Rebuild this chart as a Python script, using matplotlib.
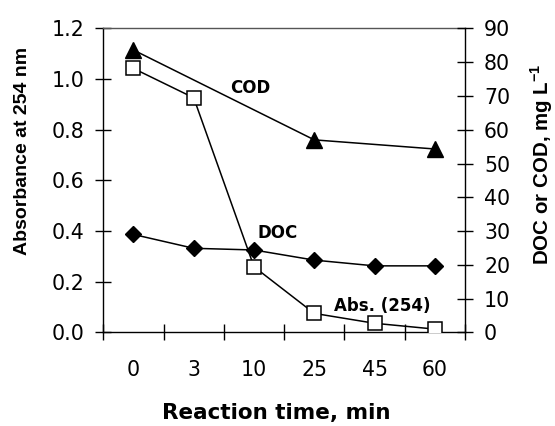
import matplotlib
matplotlib.use("Agg")
import matplotlib.pyplot as plt
from matplotlib import font_manager
from matplotlib.ticker import FixedLocator, NullFormatter, FixedFormatter

# ---- data ----
times = ["0", "3", "10", "25", "45", "60"]
abs254 = [1.042, 0.926, 0.259, 0.075, 0.036, 0.013]
doc = [29.0, 24.9, 24.4, 21.4, 19.7, 19.7]
cod_times = ["0", "25", "60"]
cod = [83.6, 57.0, 54.3]
left_ticks = [0.0, 0.2, 0.4, 0.6, 0.8, 1.0, 1.2]
right_ticks = [0, 10, 20, 30, 40, 50, 60, 70, 80, 90]

names = {f.name for f in font_manager.fontManager.ttflist}
narrow = "Liberation Sans Narrow" in names
vfam = "Liberation Sans Narrow" if narrow else "Liberation Sans"
vsize_l = 16.4 if narrow else 14.0
vsize_r = 17.5 if narrow else 14.8
hfam = "DejaVu Sans"

plt.rcParams["font.family"] = [hfam]
plt.rcParams["mathtext.fontset"] = "custom"
plt.rcParams["mathtext.bf"] = vfam + ":bold"
plt.rcParams["mathtext.rm"] = vfam

W, H = 555, 426
fig = plt.figure(figsize=(W / 100, H / 100), dpi=100)
L, R, T, B = 103.3, 465.0, 28.4, 332.4
ax = fig.add_axes([L / W, 1 - B / H, (R - L) / W, (B - T) / H])
ax2 = ax.twinx()

xpos = list(range(len(times)))
xmap = {t: i for i, t in enumerate(times)}
cod_x = [xmap[t] for t in cod_times]

lw = 1.1
ax.plot(xpos, abs254, color="black", lw=lw, marker="s", ms=10, mfc="white",
        mec="black", mew=1.1, zorder=3)
ax2.plot(xpos, doc, color="black", lw=lw, marker="D", ms=8, mfc="black",
         mec="black", zorder=3)
ax2.plot(cod_x, cod, color="black", lw=lw, marker="^", ms=12, mfc="black",
         mec="black", zorder=3)

ax.set_xlim(-0.5, len(times) - 0.5)
ax.set_ylim(0, 1.2)
ax2.set_ylim(0, 90)

ax.yaxis.set_major_locator(FixedLocator(left_ticks))
ax.set_yticklabels([f"{v:.1f}" for v in left_ticks])
ax2.yaxis.set_major_locator(FixedLocator(right_ticks))
ax2.set_yticklabels([str(v) for v in right_ticks])

ax.xaxis.set_major_locator(FixedLocator([i - 0.5 for i in range(len(times) + 1)]))
ax.xaxis.set_major_formatter(NullFormatter())
ax.xaxis.set_minor_locator(FixedLocator(xpos))
ax.xaxis.set_minor_formatter(FixedFormatter(times))

tick_len = 11.5
ax.tick_params(axis="x", which="major", direction="inout", length=tick_len, width=1.0)
ax.tick_params(axis="x", which="minor", length=0, pad=20, labelsize=14.8)
ax.tick_params(axis="y", direction="inout", length=tick_len, width=1.0, pad=8,
               labelsize=14.8)
ax2.tick_params(axis="y", direction="inout", length=tick_len, width=1.0, pad=8,
                labelsize=14.8)

for a in (ax, ax2):
    for s in a.spines.values():
        s.set_linewidth(1.0)
ax.spines["right"].set_visible(False)
ax.spines["top"].set_color("#555555")
ax2.spines["top"].set_visible(False)
ax2.spines["left"].set_visible(False)
ax2.spines["bottom"].set_visible(False)

# series labels
ax.text(0.4056, 0.805, "COD", transform=ax.transAxes, ha="center", va="center",
        fontsize=12, fontweight="bold")
ax.text(0.483, 0.326, "DOC", transform=ax.transAxes, ha="center", va="center",
        fontsize=12, fontweight="bold")
ax.text(0.7705, 0.086, "Abs. (254)", transform=ax.transAxes, ha="center",
        va="center", fontsize=12, fontweight="bold")

# axis titles
fig.text(276 / W, 1 - 419 / H, "Reaction time, min", ha="center", va="baseline",
         fontsize=15.5, fontweight="bold")
fig.text(23 / W, 1 - 150.5 / H, "Absorbance at 254 nm", rotation=90, ha="center",
         va="center", fontsize=vsize_l, fontweight="bold", family=vfam)
fig.text(542 / W, 1 - 164.5 / H, "DOC or COD, mg L$^{\\mathbf{-1}}$", rotation=90,
         ha="center", va="center", fontsize=vsize_r, fontweight="bold", family=vfam)

fig.savefig("out.png", dpi=100)
